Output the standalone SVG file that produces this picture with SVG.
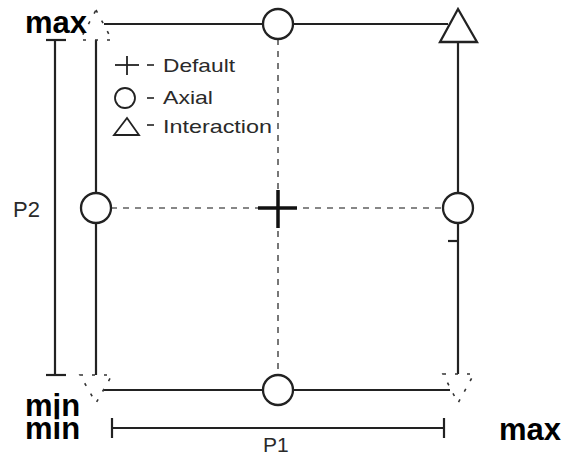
<svg xmlns="http://www.w3.org/2000/svg" width="568" height="462" viewBox="0 0 568 462">
<style>
.solid{stroke:#222;stroke-width:2.2;fill:none}
.dash{stroke:#606060;stroke-width:1.7;stroke-dasharray:6 6;fill:none}
.faint{stroke:#333;stroke-width:1.6;stroke-dasharray:3 9;fill:none}
.node{fill:#fff;stroke:#222;stroke-width:2.3}
.lbl{font-family:"Liberation Sans",Arial,sans-serif;fill:#2a2a2a}
.big{font-family:"Liberation Sans",Arial,sans-serif;font-weight:bold;font-size:31px;fill:#000}
</style>
<rect width="568" height="462" fill="#fff"/>
<g id="connectors">
<line class="solid" x1="104" y1="24" x2="448" y2="24"/>
<line class="solid" x1="104" y1="390" x2="450" y2="390"/>
<line class="solid" x1="96" y1="40" x2="96" y2="375"/>
<line class="solid" x1="458" y1="42" x2="458" y2="374"/>
<line class="solid" x1="448" y1="241" x2="458" y2="241"/>
<line class="dash" x1="278" y1="39" x2="278" y2="375"/>
<line class="dash" x1="111" y1="208" x2="443" y2="208"/>
</g>
<g id="dim-p2">
<line class="solid" x1="55" y1="40" x2="55" y2="375"/>
<line class="solid" x1="46" y1="40" x2="66" y2="40"/>
<line class="solid" x1="46" y1="375" x2="66" y2="375"/>
<text class="lbl" x="13" y="217" font-size="22">P2</text>
</g>
<g id="dim-p1">
<line class="solid" x1="112" y1="428" x2="444" y2="428"/>
<line class="solid" x1="112" y1="418" x2="112" y2="438"/>
<line class="solid" x1="444" y1="418" x2="444" y2="438"/>
<text class="lbl" x="263" y="452" font-size="21">P1</text>
</g>
<g id="tri-top-left"><polygon class="faint" points="96,10 112,40 80,40"/></g>
<g id="tri-bottom-left"><polygon class="faint" points="80,375 112,375 96,403"/></g>
<g id="tri-bottom-right"><polygon class="faint" points="443,374 474,374 458,403"/></g>
<g id="tri-top-right"><polygon class="node" stroke-width="2.6" points="458,9 477,42 440,42"/></g>
<g id="circle-top"><circle class="node" cx="278" cy="24" r="15"/></g>
<g id="circle-bottom"><circle class="node" cx="278" cy="390" r="15"/></g>
<g id="circle-left"><circle class="node" cx="96" cy="208" r="15"/></g>
<g id="circle-right"><circle class="node" cx="458" cy="208" r="15"/></g>
<g id="center-default">
<line x1="258" y1="208" x2="297" y2="208" stroke="#111" stroke-width="3.5"/>
<line x1="278" y1="190" x2="278" y2="228" stroke="#111" stroke-width="3.5"/>
</g>
<g id="legend">
<line x1="115" y1="65" x2="139" y2="65" stroke="#222" stroke-width="1.8"/>
<line x1="127" y1="56" x2="127" y2="75" stroke="#222" stroke-width="1.8"/>
<line x1="147" y1="65" x2="154" y2="65" stroke="#222" stroke-width="1.6"/>
<text class="lbl" x="163" y="72" font-size="18.5" textLength="72" lengthAdjust="spacingAndGlyphs">Default</text>
<circle cx="125" cy="98" r="10" fill="none" stroke="#222" stroke-width="1.8"/>
<line x1="147" y1="98" x2="154" y2="98" stroke="#222" stroke-width="1.6"/>
<text class="lbl" x="163" y="104" font-size="18.5" textLength="50" lengthAdjust="spacingAndGlyphs">Axial</text>
<polygon points="127,118 139,135 114,135" fill="none" stroke="#222" stroke-width="1.8"/>
<line x1="147" y1="125" x2="154" y2="125" stroke="#222" stroke-width="1.6"/>
<text class="lbl" x="163" y="133" font-size="18.5" textLength="109" lengthAdjust="spacingAndGlyphs">Interaction</text>
</g>
<g id="axis-labels">
<text class="big" x="25" y="33">max</text>
<text class="big" x="25" y="416">min</text>
<text class="big" x="25" y="439">min</text>
<text class="big" x="499" y="440">max</text>
</g>
</svg>
